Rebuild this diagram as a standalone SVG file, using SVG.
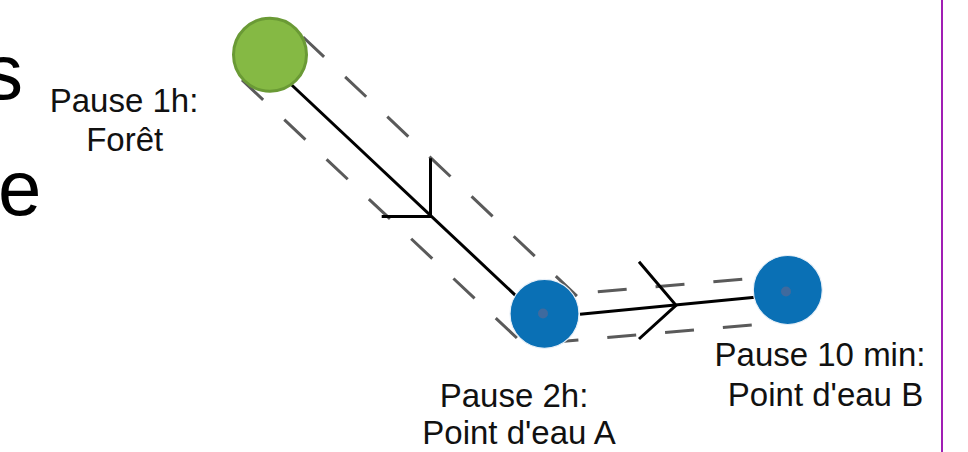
<svg xmlns="http://www.w3.org/2000/svg" width="968" height="452" viewBox="0 0 968 452">
  <style>
    .lbl { font-family: "Liberation Sans", Arial, sans-serif; font-size: 33px; fill: #111; text-anchor: middle; }
    .big { font-family: "Liberation Sans", Arial, sans-serif; font-size: 78px; fill: #000; }
    .track { fill: none; stroke: #000; stroke-width: 3; stroke-linejoin: miter; }
    .dash { fill: none; stroke: #5a5a5a; stroke-width: 3; stroke-dasharray: 29 29; }
    .water { fill: #0a70b5; stroke: #e8f0f8; stroke-width: 1.2; }
    .dot { fill: #3f6a9e; }
  </style>
  <rect x="0" y="0" width="968" height="452" fill="#ffffff"/>
  <text class="big" x="-16" y="99">s</text>
  <text class="big" x="-2" y="215">e</text>
  <line x1="942" y1="0" x2="942" y2="452" stroke="#a01eb4" stroke-width="2"/>

  <g id="connectors">
    <line class="dash" x1="303" y1="37" x2="580" y2="299"/>
    <line class="dash" x1="242" y1="80" x2="519" y2="340"/>
    <line class="dash" x1="540" y1="296.6" x2="745" y2="279"/>
    <line class="dash" x1="549.5" y1="342.5" x2="753" y2="325"/>
    <line class="track" x1="288" y1="81.5" x2="520" y2="299.6"/>
    <path class="track" d="M430.5 158.3 V216.5 H381.7"/>
    <line class="track" x1="580" y1="314.2" x2="755" y2="297.3"/>
    <path class="track" d="M639 261.7 L676 305.3 L639 339"/>
  </g>

  <g id="node-foret">
    <circle cx="270" cy="54.7" r="36.5" fill="#85b944" stroke="#6a9a35" stroke-width="3"/>
    <text class="lbl" x="124" y="111.7">Pause 1h:</text>
    <text class="lbl" x="124.7" y="150.7">Forêt</text>
  </g>

  <g id="node-eau-a">
    <circle class="water" cx="544.5" cy="313.8" r="34.5"/>
    <circle class="dot" cx="543" cy="313.5" r="5"/>
    <text class="lbl" x="514" y="406.7">Pause 2h:</text>
    <text class="lbl" x="519" y="444">Point d'eau A</text>
  </g>

  <g id="node-eau-b">
    <circle class="water" cx="787.8" cy="290" r="34.5"/>
    <circle class="dot" cx="786" cy="291.5" r="5"/>
    <text class="lbl" x="820" y="366">Pause 10 min:</text>
    <text class="lbl" x="825.5" y="405.7">Point d'eau B</text>
  </g>
</svg>
